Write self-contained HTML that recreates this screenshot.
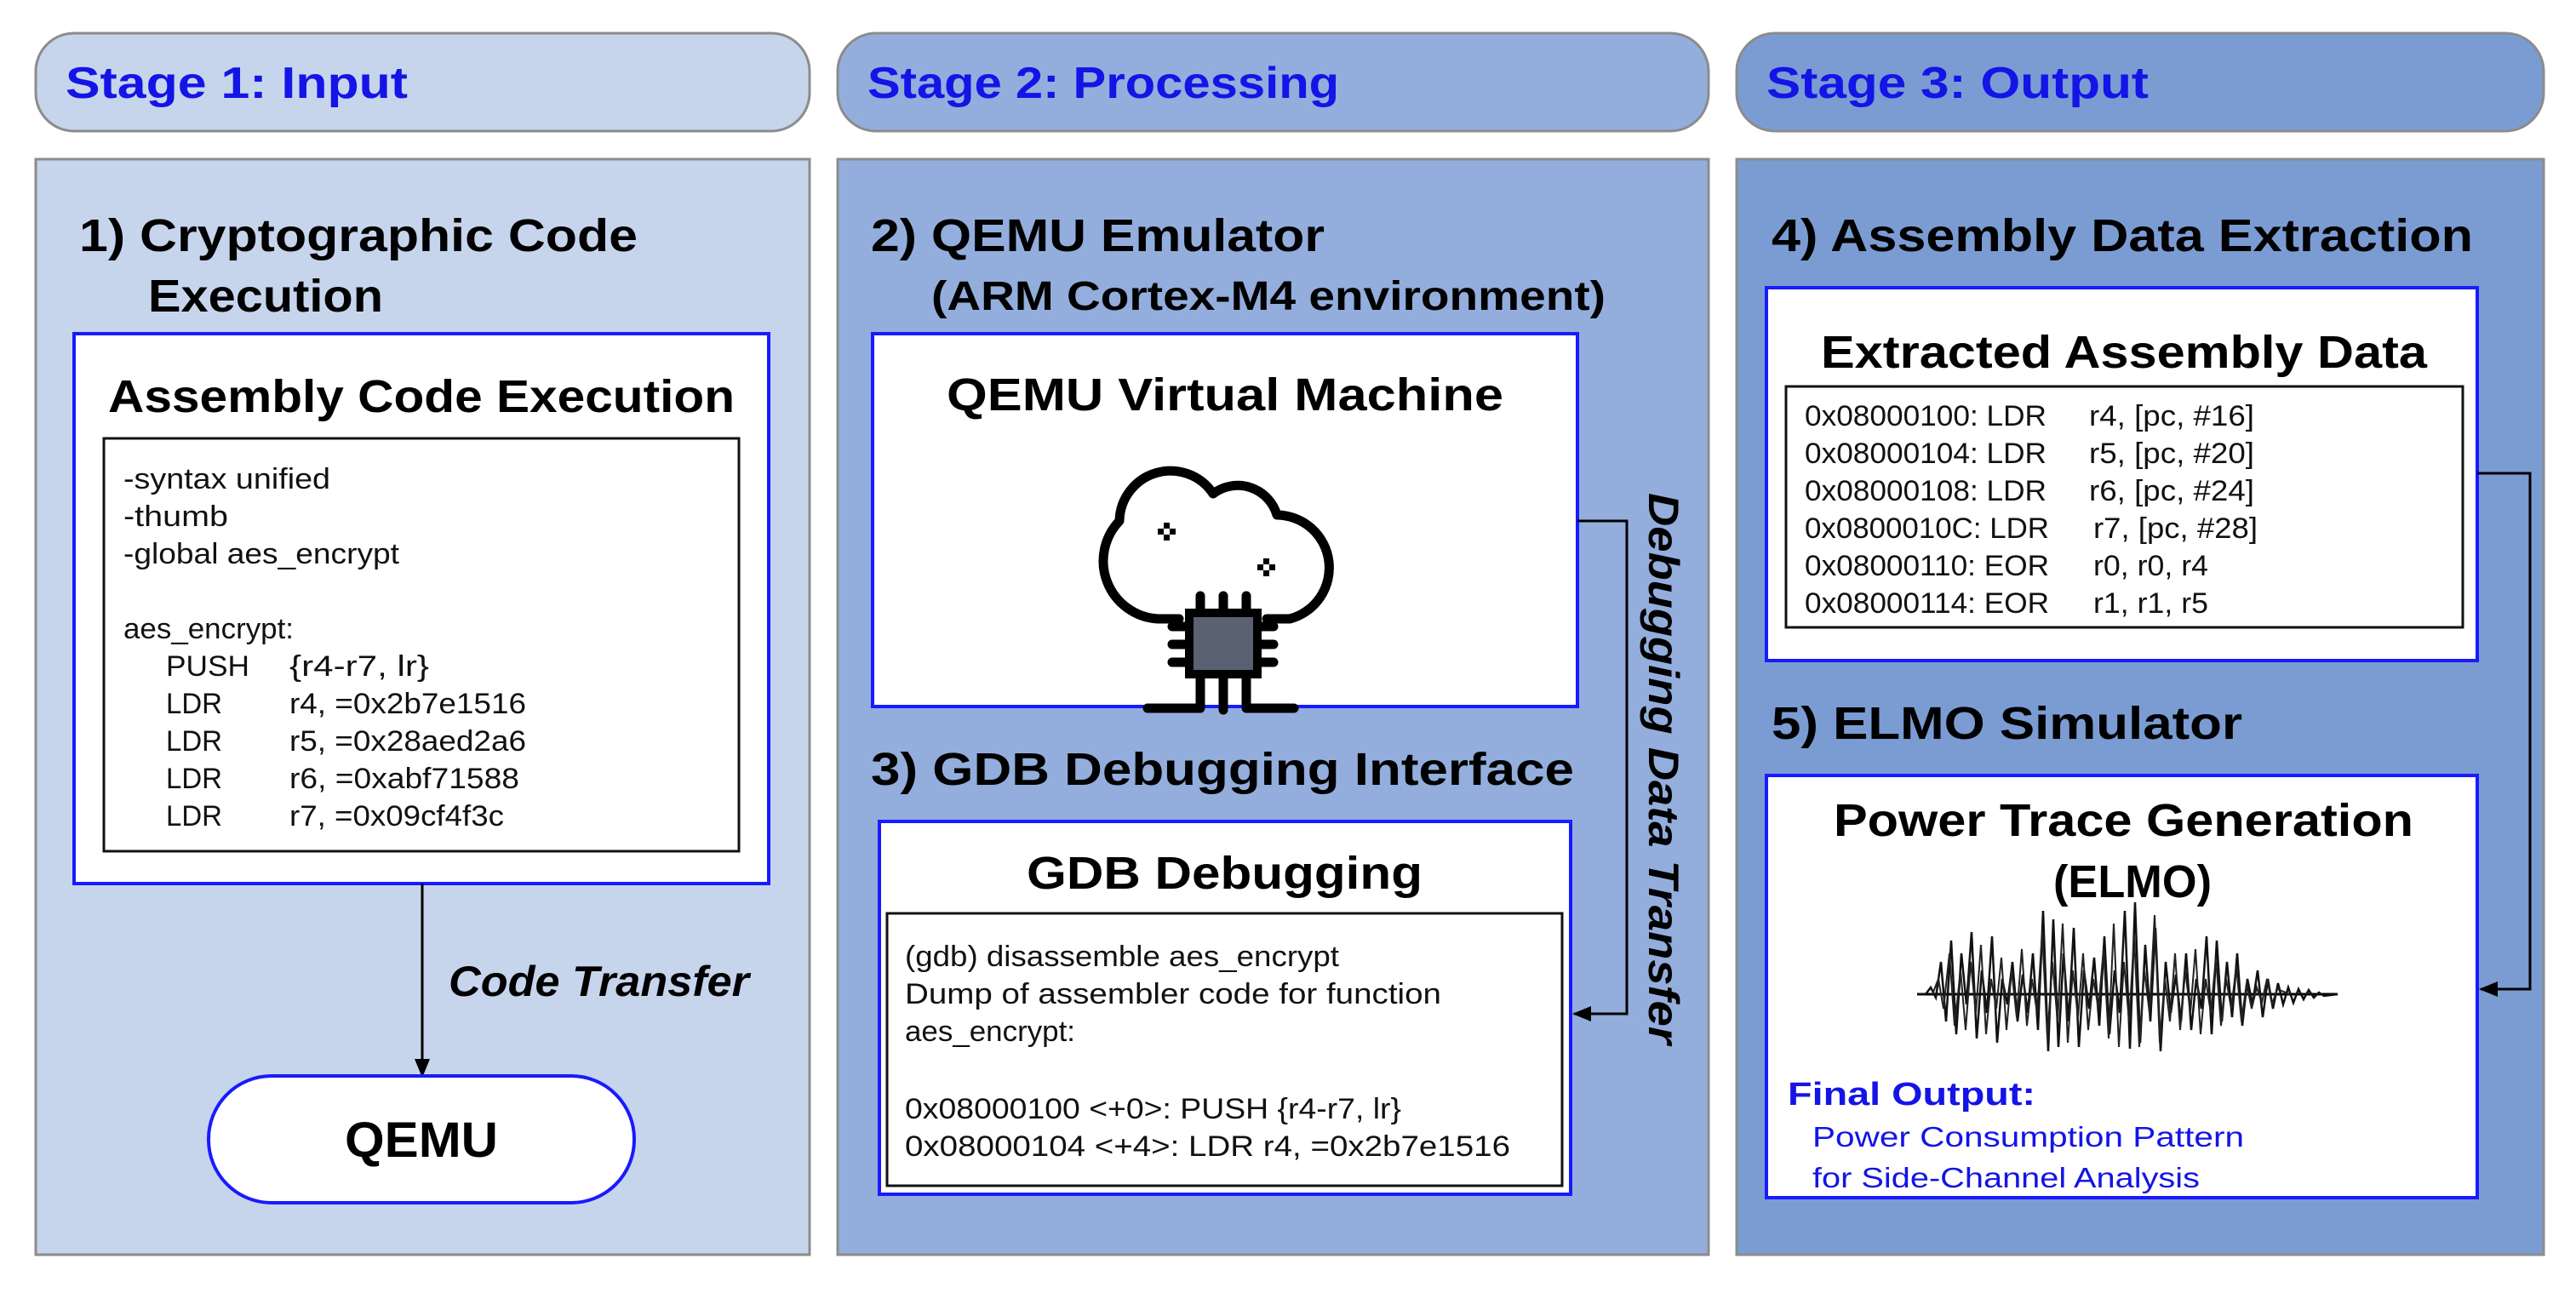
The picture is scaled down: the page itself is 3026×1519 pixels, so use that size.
<!DOCTYPE html>
<html><head><meta charset="utf-8"><style>html,body{margin:0;padding:0;background:#fff}svg{display:block}</style></head>
<body>
<svg width="3026" height="1519" viewBox="0 0 3026 1519" xmlns="http://www.w3.org/2000/svg" font-family="'Liberation Sans', sans-serif">
<defs>
<marker id="ah2" markerWidth="22" markerHeight="18" refX="20" refY="9" orient="auto" markerUnits="userSpaceOnUse"><path d="M0,0 L22,9 L0,18 z" fill="#000"/></marker>
</defs>
<rect width="3026" height="1519" fill="#fff"/>
<rect x="42" y="39" width="909" height="115" rx="45" fill="#c6d5ec" stroke="#8c8c8c" stroke-width="3"/>
<rect x="984" y="39" width="1023" height="115" rx="45" fill="#93aedc" stroke="#8c8c8c" stroke-width="3"/>
<rect x="2040" y="39" width="948" height="115" rx="45" fill="#7b9bd3" stroke="#8c8c8c" stroke-width="3"/>
<g fill="#1414e6" font-weight="bold" font-size="52">
<text x="77" y="115" textLength="402" lengthAdjust="spacingAndGlyphs">Stage 1: Input</text>
<text x="1019" y="115" textLength="554" lengthAdjust="spacingAndGlyphs">Stage 2: Processing</text>
<text x="2075" y="115" textLength="449" lengthAdjust="spacingAndGlyphs">Stage 3: Output</text>
</g>
<rect x="42" y="187" width="909" height="1287" fill="#c6d5ec" stroke="#8c8c8c" stroke-width="3"/>
<rect x="984" y="187" width="1023" height="1287" fill="#93aedc" stroke="#8c8c8c" stroke-width="3"/>
<rect x="2040" y="187" width="948" height="1287" fill="#7b9bd3" stroke="#8c8c8c" stroke-width="3"/>

<g font-weight="bold" font-size="54" fill="#000">
<text x="93" y="295" textLength="656" lengthAdjust="spacingAndGlyphs">1)  Cryptographic Code</text>
<text x="174" y="366" textLength="276" lengthAdjust="spacingAndGlyphs">Execution</text>
<text x="1023" y="295" textLength="533" lengthAdjust="spacingAndGlyphs">2)  QEMU Emulator</text>
<text x="1094" y="364" font-size="48" textLength="792" lengthAdjust="spacingAndGlyphs">(ARM Cortex-M4 environment)</text>
<text x="1023" y="922" textLength="826" lengthAdjust="spacingAndGlyphs">3)  GDB Debugging Interface</text>
<text x="2081" y="295" textLength="824" lengthAdjust="spacingAndGlyphs">4)  Assembly Data Extraction</text>
<text x="2081" y="868" textLength="553" lengthAdjust="spacingAndGlyphs">5)  ELMO Simulator</text>
</g>

<!-- Panel 1 -->
<rect x="87" y="392" width="816" height="646" fill="#fff" stroke="#1a1aff" stroke-width="4"/>
<text x="127" y="484" font-weight="bold" font-size="54" textLength="736" lengthAdjust="spacingAndGlyphs">Assembly Code Execution</text>
<rect x="122" y="515" width="746" height="485" fill="#fff" stroke="#111" stroke-width="3"/>
<g font-size="34" fill="#111">
<text x="145" y="574" textLength="243" lengthAdjust="spacingAndGlyphs">-syntax unified</text>
<text x="145" y="618" textLength="123" lengthAdjust="spacingAndGlyphs">-thumb</text>
<text x="145" y="662" textLength="324" lengthAdjust="spacingAndGlyphs">-global aes_encrypt</text>
<text x="145" y="750" textLength="200" lengthAdjust="spacingAndGlyphs">aes_encrypt:</text>
<text x="195" y="794" textLength="98" lengthAdjust="spacingAndGlyphs">PUSH</text><text x="340" y="794" textLength="164" lengthAdjust="spacingAndGlyphs">{r4-r7, lr}</text>
<text x="195" y="838" textLength="66" lengthAdjust="spacingAndGlyphs">LDR</text><text x="340" y="838" textLength="278" lengthAdjust="spacingAndGlyphs">r4, =0x2b7e1516</text>
<text x="195" y="882" textLength="66" lengthAdjust="spacingAndGlyphs">LDR</text><text x="340" y="882" textLength="278" lengthAdjust="spacingAndGlyphs">r5, =0x28aed2a6</text>
<text x="195" y="926" textLength="66" lengthAdjust="spacingAndGlyphs">LDR</text><text x="340" y="926" textLength="270" lengthAdjust="spacingAndGlyphs">r6, =0xabf71588</text>
<text x="195" y="970" textLength="66" lengthAdjust="spacingAndGlyphs">LDR</text><text x="340" y="970" textLength="252" lengthAdjust="spacingAndGlyphs">r7, =0x09cf4f3c</text>
</g>
<line x1="496" y1="1038" x2="496" y2="1264" stroke="#000" stroke-width="3" marker-end="url(#ah2)"/>
<text x="527" y="1170" font-weight="bold" font-style="italic" font-size="50" textLength="353" lengthAdjust="spacingAndGlyphs">Code Transfer</text>
<rect x="245" y="1264" width="500" height="149" rx="74" fill="#fff" stroke="#1a1aff" stroke-width="4"/>
<text x="405" y="1359" font-weight="bold" font-size="58" textLength="180" lengthAdjust="spacingAndGlyphs">QEMU</text>

<!-- Panel 2 -->
<rect x="1025" y="392" width="828" height="438" fill="#fff" stroke="#1a1aff" stroke-width="4"/>
<text x="1112" y="482" font-weight="bold" font-size="54" textLength="654" lengthAdjust="spacingAndGlyphs">QEMU Virtual Machine</text>
<g fill="none" stroke="#000" stroke-width="11" stroke-linecap="round" stroke-linejoin="round">
<path d="M1385,727 H1360 A68,68 0 0 1 1315,612 A60,60 0 0 1 1425,580 A48,48 0 0 1 1500,605 A62,62 0 0 1 1515,727 H1488"/>
<line x1="1410" y1="700" x2="1410" y2="718"/><line x1="1437" y1="700" x2="1437" y2="718"/><line x1="1464" y1="700" x2="1464" y2="718"/>
<line x1="1377" y1="736" x2="1395" y2="736"/><line x1="1377" y1="757" x2="1395" y2="757"/><line x1="1377" y1="778" x2="1395" y2="778"/>
<line x1="1478" y1="736" x2="1496" y2="736"/><line x1="1478" y1="757" x2="1496" y2="757"/><line x1="1478" y1="778" x2="1496" y2="778"/>
<path d="M1410,792 V832 H1348"/><line x1="1437" y1="792" x2="1437" y2="834"/><path d="M1464,792 V832 H1520"/>
</g>
<rect x="1397" y="720" width="80" height="72" fill="#5a6272" stroke="#000" stroke-width="10"/>
<g fill="#000">
<rect x="1367" y="614" width="7" height="7"/><rect x="1374" y="621" width="7" height="7"/><rect x="1360" y="621" width="7" height="7"/><rect x="1367" y="628" width="7" height="7"/>
<rect x="1484" y="656" width="7" height="7"/><rect x="1491" y="663" width="7" height="7"/><rect x="1477" y="663" width="7" height="7"/><rect x="1484" y="670" width="7" height="7"/>
</g>
<rect x="1033" y="965" width="812" height="438" fill="#fff" stroke="#1a1aff" stroke-width="4"/>
<text x="1206" y="1044" font-weight="bold" font-size="54" textLength="465" lengthAdjust="spacingAndGlyphs">GDB Debugging</text>
<rect x="1042" y="1073" width="793" height="320" fill="#fff" stroke="#111" stroke-width="3"/>
<g font-size="34" fill="#111">
<text x="1063" y="1135" textLength="510" lengthAdjust="spacingAndGlyphs">(gdb) disassemble aes_encrypt</text>
<text x="1063" y="1179" textLength="630" lengthAdjust="spacingAndGlyphs">Dump of assembler code for function</text>
<text x="1063" y="1223" textLength="200" lengthAdjust="spacingAndGlyphs">aes_encrypt:</text>
<text x="1063" y="1314" textLength="583" lengthAdjust="spacingAndGlyphs">0x08000100 &lt;+0&gt;: PUSH {r4-r7, lr}</text>
<text x="1063" y="1358" textLength="711" lengthAdjust="spacingAndGlyphs">0x08000104 &lt;+4&gt;: LDR    r4, =0x2b7e1516</text>
</g>
<polyline points="1853,612 1911,612 1911,1191 1849,1191" fill="none" stroke="#000" stroke-width="3" marker-end="url(#ah2)"/>
<text transform="translate(1937,903) rotate(90)" x="-324" y="0" font-weight="bold" font-style="italic" font-size="50" textLength="648" lengthAdjust="spacingAndGlyphs">Debugging Data Transfer</text>

<!-- Panel 3 -->
<rect x="2075" y="338" width="835" height="438" fill="#fff" stroke="#1a1aff" stroke-width="4"/>
<text x="2139" y="432" font-weight="bold" font-size="54" textLength="712" lengthAdjust="spacingAndGlyphs">Extracted Assembly Data</text>
<rect x="2098" y="454" width="795" height="283" fill="#fff" stroke="#111" stroke-width="3"/>
<g font-size="34" fill="#111">
<text x="2120" y="500" textLength="284" lengthAdjust="spacingAndGlyphs">0x08000100: LDR</text>
<text x="2120" y="544" textLength="284" lengthAdjust="spacingAndGlyphs">0x08000104: LDR</text>
<text x="2120" y="588" textLength="284" lengthAdjust="spacingAndGlyphs">0x08000108: LDR</text>
<text x="2120" y="632" textLength="287" lengthAdjust="spacingAndGlyphs">0x0800010C: LDR</text>
<text x="2120" y="676" textLength="287" lengthAdjust="spacingAndGlyphs">0x08000110: EOR</text>
<text x="2120" y="720" textLength="287" lengthAdjust="spacingAndGlyphs">0x08000114: EOR</text>
<text x="2454" y="500" textLength="194" lengthAdjust="spacingAndGlyphs">r4, [pc, #16]</text>
<text x="2454" y="544" textLength="194" lengthAdjust="spacingAndGlyphs">r5, [pc, #20]</text>
<text x="2454" y="588" textLength="194" lengthAdjust="spacingAndGlyphs">r6, [pc, #24]</text>
<text x="2459" y="632" textLength="193" lengthAdjust="spacingAndGlyphs">r7, [pc, #28]</text>
<text x="2459" y="676" textLength="135" lengthAdjust="spacingAndGlyphs">r0, r0, r4</text>
<text x="2459" y="720" textLength="135" lengthAdjust="spacingAndGlyphs">r1, r1, r5</text>
</g>
<polyline points="2910,556 2972,556 2972,1162 2914,1162" fill="none" stroke="#000" stroke-width="3" marker-end="url(#ah2)"/>
<rect x="2075" y="911" width="835" height="496" fill="#fff" stroke="#1a1aff" stroke-width="4"/>
<text x="2154" y="982" font-weight="bold" font-size="54" textLength="681" lengthAdjust="spacingAndGlyphs">Power Trace Generation</text>
<text x="2412" y="1054" font-weight="bold" font-size="54" textLength="186" lengthAdjust="spacingAndGlyphs">(ELMO)</text>
<line x1="2252" y1="1168" x2="2746" y2="1168" stroke="#000" stroke-width="3"/>
<polyline fill="none" stroke="#111" stroke-width="2.5" points="2252,1168 2262,1168 2268,1160 2274,1172 2280,1130 2286,1200 2292,1105 2298,1215 2304,1120 2310,1180 2316,1095 2322,1220 2328,1140 2334,1190 2340,1100 2346,1225 2352,1150 2358,1180 2364,1130 2370,1200 2376,1145 2382,1190 2388,1120 2394,1210 2400,1070 2406,1235 2412,1080 2418,1230 2424,1120 2430,1200 2436,1090 2442,1230 2448,1140 2454,1185 2460,1125 2466,1205 2472,1100 2478,1215 2484,1140 2490,1190 2496,1070 2502,1232 2508,1060 2514,1225 2520,1110 2526,1200 2532,1090 2538,1235 2544,1130 2550,1190 2556,1145 2562,1200 2568,1120 2574,1210 2580,1150 2586,1185 2592,1100 2598,1215 2604,1105 2610,1200 2616,1130 2622,1195 2628,1120 2634,1205 2640,1150 2646,1180 2652,1140 2658,1195 2664,1150 2670,1185 2676,1155 2682,1180 2688,1160 2694,1178 2700,1162 2706,1174 2712,1163 2718,1172 2724,1166 2730,1170 2746,1168"/>
<polyline fill="none" stroke="#222" stroke-width="2" points="2270,1168 2277,1150 2283,1185 2290,1120 2296,1205 2303,1140 2309,1210 2315,1130 2321,1190 2327,1110 2333,1215 2339,1150 2345,1185 2351,1125 2357,1210 2363,1140 2369,1195 2375,1115 2381,1205 2387,1150 2393,1190 2399,1095 2405,1220 2411,1130 2417,1200 2423,1085 2429,1225 2435,1140 2441,1195 2447,1120 2453,1210 2459,1150 2465,1185 2471,1115 2477,1220 2483,1085 2489,1230 2495,1130 2501,1200 2507,1100 2513,1230 2519,1140 2525,1190 2531,1075 2537,1225 2543,1150 2549,1200 2555,1120 2561,1210 2567,1140 2573,1190 2579,1115 2585,1215 2591,1150 2597,1190 2603,1125 2609,1205 2615,1150 2621,1185 2627,1135 2633,1200 2639,1155 2645,1185 2651,1160 2657,1178 2663,1150 2669,1180 2675,1162 2690,1168"/>
<text x="2100" y="1298" font-weight="bold" font-size="38" fill="#1414e6" textLength="291" lengthAdjust="spacingAndGlyphs">Final Output:</text>
<text x="2129" y="1347" font-size="33" fill="#1414e6" textLength="507" lengthAdjust="spacingAndGlyphs">Power Consumption Pattern</text>
<text x="2129" y="1395" font-size="33" fill="#1414e6" textLength="455" lengthAdjust="spacingAndGlyphs">for Side-Channel Analysis</text>
</svg>
</body></html>
